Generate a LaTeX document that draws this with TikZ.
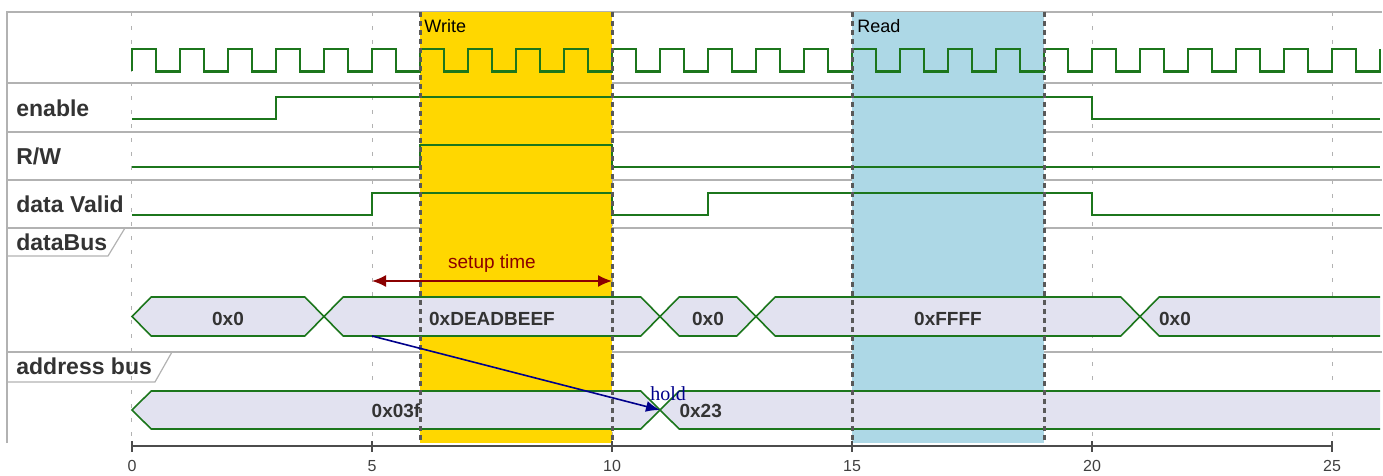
\documentclass[tikz,border=0pt]{standalone}
\usepackage{fontspec}
\setmainfont{Liberation Sans}
\newfontfamily\holdfont{Liberation Serif}
\usepackage{xcolor}
\usepackage{tikz}
\usetikzlibrary{arrows.meta}

\definecolor{sigline}{RGB}{28,118,28}
\definecolor{busfill}{RGB}{226,226,240}
\definecolor{writefill}{RGB}{255,215,0}
\definecolor{readfill}{RGB}{173,216,230}
\definecolor{setupred}{RGB}{139,0,0}
\definecolor{holdblue}{RGB}{0,0,139}

\begin{document}
\begin{tikzpicture}[x=24pt, y=-0.5pt,
  rowsep/.style={gray!60, line width=0.6pt},
  gridline/.style={gray!60, line width=0.5pt, dash pattern=on 2pt off 5pt},
  zoneedge/.style={black!65, line width=1.5pt, dash pattern=on 2.5pt off 2pt},
  wave/.style={sigline, line width=1.2pt},
  bus/.style={draw=sigline, fill=busfill, line width=0.8pt},
  axisline/.style={black!70, line width=1.4pt},
  rowlabel/.style={anchor=base west, inner sep=0pt, text=black!80, font=\fontsize{11.5}{13}\selectfont\bfseries},
  busval/.style={inner sep=0pt, text=black!80, font=\fontsize{9.5}{11}\selectfont\bfseries},
  zonelabel/.style={anchor=base west, inner sep=0pt, font=\fontsize{9}{10}\selectfont},
  ticklabel/.style={inner sep=0pt, text=black!75, font=\fontsize{8}{9}\selectfont}]
\useasboundingbox (-2.75,0) rectangle (26.0625,476);
% frame and rows
\draw[rowsep] (-2.604,443) -- (-2.604,12) -- (26.04,12);
\foreach \y in {83,132,180,228,352} \draw[rowsep] (-2.604,\y) -- (26.04,\y);
\draw[rowsep] (-2.604,256) -- (-0.5,256) -- (-0.146,228);
\draw[rowsep] (-2.604,382) -- (0.479,382) -- (0.833,352);
\foreach \t in {0,5,...,25} \draw[gridline] (\t,12) -- (\t,443);
% highlighted zones
\fill[writefill] (6,12) rectangle (10,443);
\fill[readfill] (15,12) rectangle (19,443);
\node[zonelabel] (lblWrite) at (6.083,33) {Write};
\node[zonelabel] (lblRead) at (15.104,33) {Read};
% labels
\node[rowlabel] (lblEnable) at (-2.417,116.5) {enable};
\node[rowlabel] (lblRW) at (-2.417,165) {R/W};
\node[rowlabel] (lblValid) at (-2.417,212.5) {data Valid};
\node[rowlabel] (lblData) at (-2.417,250.5) {dataBus};
\node[rowlabel] (lblAddr) at (-2.417,374) {address bus};
% clock and binary signals
\draw[wave] (0,71.5) \foreach \k in {0,...,25} { -- (\k,49) -- ({\k+0.5},49) -- ({\k+0.5},71.5) -- ({\k+1},71.5) } -- (26,49);
\draw[wave] (0,119) -- (3,119) -- (3,97) -- (20,97) -- (20,119) -- (26,119);
\draw[wave] (0,167) -- (6,167) -- (6,145) -- (10,145) -- (10,167) -- (26,167);
\draw[wave] (0,215) -- (5,215) -- (5,193) -- (10,193) -- (10,215) -- (12,215) -- (12,193) -- (20,193) -- (20,215) -- (26,215);
% dataBus
\foreach \a/\b in {0/4,4/11,11/13,13/21}
  \draw[bus] (\a,316.5) -- ({\a+0.4},297) -- ({\b-0.4},297) -- (\b,316.5) -- ({\b-0.4},336) -- ({\a+0.4},336) -- cycle;
\fill[busfill] (21,316.5) -- (21.4,297) -- (26,297) -- (26,336) -- (21.4,336) -- cycle;
\draw[sigline, line width=0.8pt] (26,297) -- (21.4,297) -- (21,316.5) -- (21.4,336) -- (26,336);
\node[busval] (db1) at (2,318.5) {0x0};
\node[busval] (db2) at (7.5,318.5) {0xDEADBEEF};
\node[busval] (db3) at (12,318.5) {0x0};
\node[busval] (db4) at (17,318.5) {0xFFFF};
\node[busval, anchor=west] (db5) at (21.39,318.5) {0x0};
% address bus
\draw[bus] (0,410) -- (0.4,391) -- (10.6,391) -- (11,410) -- (10.6,429) -- (0.4,429) -- cycle;
\fill[busfill] (11,410) -- (11.4,391) -- (26,391) -- (26,429) -- (11.4,429) -- cycle;
\draw[sigline, line width=0.8pt] (26,391) -- (11.4,391) -- (11,410) -- (11.4,429) -- (26,429);
\node[busval] (ab1) at (5.5,410.5) {0x03f};
\node[busval, anchor=west] (ab2) at (11.4,410.5) {0x23};
% zone edges
\foreach \t in {6,10,15,19} \draw[zoneedge] (\t,12) -- (\t,443);
% timing constraints
\coordinate (setupA) at (5,281);
\coordinate (setupB) at (10,281);
\draw[setupred, line width=0.8pt, {Latex[length=7pt,width=6pt]}-{Latex[length=7pt,width=6pt]}] (setupA) -- (setupB)
  node[midway, above=4pt, inner sep=0pt, font=\fontsize{9.5}{11}\selectfont] (lblSetup) {setup time};
\coordinate (holdA) at (5,336);
\coordinate (holdB) at (11,410);
\draw[holdblue, line width=0.8pt, -{Latex[length=7pt,width=5.5pt]}] (holdA) -- (holdB);
\node[holdblue, anchor=base, inner sep=0pt, font=\holdfont\fontsize{10}{11}\selectfont] (lblHold) at (11.17,400) {hold};
% time axis
\draw[axisline] (0,446) -- (25,446);
\foreach \t in {0,5,...,25} {
  \draw[axisline] (\t,441) -- (\t,452);
  \node[ticklabel] (tick\t) at (\t,466) {\t};
}
\end{tikzpicture}
\end{document}
